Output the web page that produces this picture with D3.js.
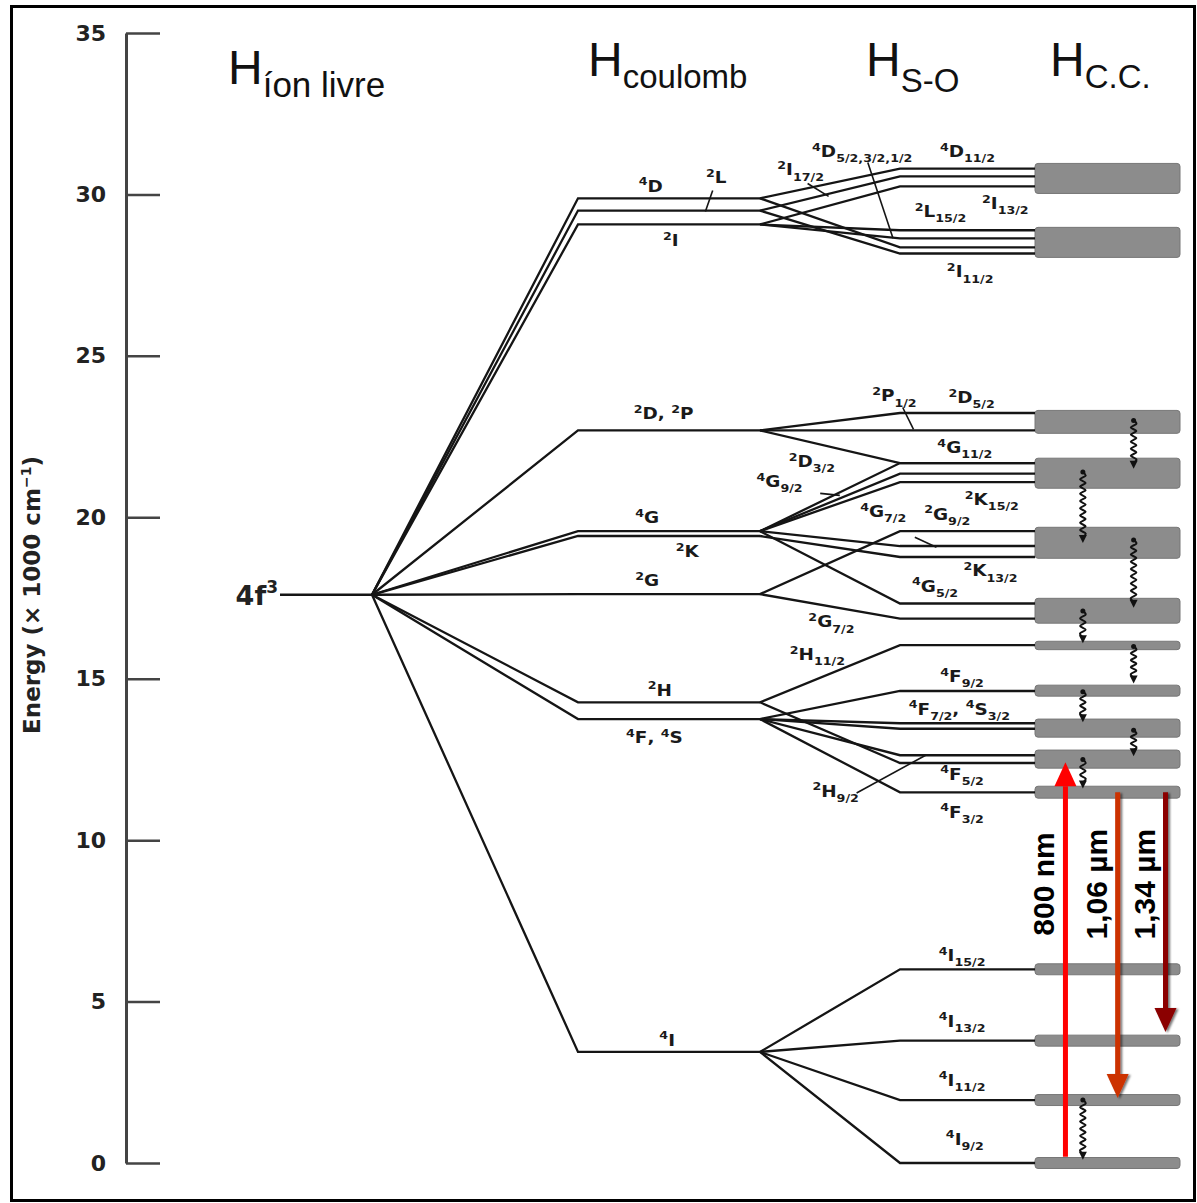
<!DOCTYPE html>
<html>
<head>
<meta charset="utf-8">
<script src="https://cdn.jsdelivr.net/npm/d3@7"></script>
<style>
body { margin: 0; background: #fff; }
svg { display: block; }
</style>
</head>
<body>
<svg id="chart" width="1197" height="1203"></svg>
<script>
// energy axis (x 1000 cm-1)
var yTicks = [0, 5, 10, 15, 20, 25, 30, 35];
var freeIonE = 17.6;

// coulomb terms and their energies
var coulombTerms = ['4D', '2L', '2I', '2D;2P', '4G', '2K', '2G', '2H', '4F;4S', '4I'];
var coulombE = [29.88, 29.5, 29.07, 22.69, 19.57, 19.42, 17.62, 14.27, 13.75, 3.44];
var coulombLabelU = [2.40, 2.76, 2.51, 2.47, 2.38, 2.60, 2.38, 2.45, 2.42, 2.49];
var coulombLabelE = [30.09, 30.34, 28.39, 23.03, 19.81, 18.76, 17.86, 14.46, 13.0, 3.62];

// spin-orbit levels reached from each coulomb term (same order as above)
var splitE = [
    [30.80, 28.36],
    [30.56, 28.17],
    [30.25, 28.89, 28.64],
    [23.23, 22.69, 21.68],
    [21.68, 21.35, 21.09, 19.11, 17.33],
    [18.77],
    [19.57, 16.86],
    [16.04, 12.39],
    [14.62, 13.62, 13.45, 12.63, 11.48],
    [6.0, 3.79, 1.95, 0.0]
];

var soTerms = ['2I|17/2', '4D|5/2,3/2,1/2', '4D|11/2', '2L|15/2', '2I|13/2', '2I|11/2', '2P|1/2', '2D|5/2',
    '4G|11/2', '2D|3/2', '4G|9/2', '2K|15/2', '4G|7/2', '2G|9/2', '2K|13/2', '4G|5/2', '2G|7/2', '2H|11/2',
    '4F|9/2', '4F|7/2;4S|3/2', '4F|5/2', '2H|9/2', '4F|3/2', '4I|15/2', '4I|13/2', '4I|11/2', '4I|9/2'];
var soLabelU = [3.29, 3.73, 4.50, 4.30, 4.78, 4.52, 3.96, 4.53, 4.48, 3.37, 3.14, 4.68, 3.88, 4.35, 4.67, 4.26,
    3.51, 3.41, 4.46, 4.44, 4.46, 3.54, 4.46, 4.46, 4.46, 4.46, 4.48];
var soLabelE = [30.59, 31.15, 31.15, 29.29, 29.54, 27.43, 23.59, 23.53, 21.98, 21.55, 20.93, 20.37, 20.0, 19.91,
    18.17, 17.68, 16.59, 15.57, 14.89, 13.87, 11.86, 11.33, 10.68, 6.25, 4.21, 2.38, 0.56];

// pointer lines from labels to levels [u1, E1, u2, E2]
var leaders = [[2.74, 30.12, 2.70, 29.47], [3.34, 30.34, 3.49, 29.94], [3.77, 30.99, 3.95, 28.64],
    [4.02, 23.4, 4.10, 22.72], [3.43, 20.74, 3.57, 20.68], [4.11, 19.38, 4.27, 19.07], [3.69, 11.46, 4.19, 12.63]];

// crystal-field manifolds
var bandLow  = [30.03, 28.05, 22.60, 20.90, 18.73, 16.72, 15.90, 14.46, 13.19, 12.23, 11.30, 5.83, 3.62, 1.78, -0.17];
var bandHigh = [30.96, 28.98, 23.31, 21.83, 19.69, 17.49, 16.16, 14.80, 13.75, 12.79, 11.67, 6.17, 3.96, 2.12, 0.17];

// non radiative relaxations
var relaxFrom = [23.0, 21.4, 19.3, 17.1, 16.0, 14.6, 13.4, 12.5, 1.95];
var relaxTo   = [21.5, 19.2, 17.2, 16.1, 14.85, 13.65, 12.6, 11.6, 0.1];
var relaxLane = ['b', 'a', 'b', 'a', 'b', 'a', 'b', 'a', 'a'];

// pump and laser transitions
var laserLabels = ['800 nm', '1,06 µm', '1,34 µm'];
var laserFrom = [0.19, 11.48, 11.48];
var laserTo = [12.41, 2.01, 4.06];
var laserU = [5.21, 5.57, 5.90];
var laserLabelE = 8.64;

var titleSubs = ['íon livre', 'coulomb', 'S-O', 'C.C.'];

// ---------- layout / styles
var laserColors = ['#ff0000', '#cc3300', '#8b0000'];
var laneU = {a: 5.33, b: 5.68};
var titleX = [228, 588, 866, 1050];
var titleY = [84, 76, 76, 76];
var titleSubDy = [13, 12, 16, 12];
var titleSubSize = [35, 33, 33, 33];
var lineColor = '#151515';

var svg = d3.select('#chart');
var y = d3.scaleLinear().domain([0, 35]).range([1163, 33]);
var x = d3.scaleLinear().domain([0, 1, 2, 3, 4, 5, 6]).range([280, 372, 578, 760, 900, 1035, 1180]);

var defs = svg.append('defs');
var shadow = defs.append('filter').attr('id', 'shadow').attr('x', -0.5).attr('y', -0.1).attr('width', 2).attr('height', 1.2);
shadow.append('feDropShadow').attr('dx', 2).attr('dy', 1).attr('stdDeviation', 1).attr('flood-color', '#000').attr('flood-opacity', 0.55);

svg.append('rect').attr('x', 11.5).attr('y', 6.5).attr('width', 1183).attr('height', 1194)
    .attr('fill', 'none').attr('stroke', '#000').attr('stroke-width', 3);

// axis
var axis = d3.axisLeft(y).tickValues(yTicks).tickSizeInner(-34).tickSizeOuter(0).tickPadding(20).tickFormat(d3.format('d'));
var gAxis = svg.append('g').attr('transform', 'translate(126,0)').call(axis);
gAxis.select('.domain').attr('stroke', '#444').attr('stroke-width', 3);
gAxis.selectAll('.tick line').attr('stroke', '#444').attr('stroke-width', 2.5);
gAxis.selectAll('.tick text').attr('font-family', 'DejaVu Sans').attr('font-weight', 'bold')
    .attr('font-size', 22).attr('fill', '#222');

var yTitle = svg.append('text').attr('transform', 'translate(40,595) rotate(-90)').attr('text-anchor', 'middle')
    .attr('font-family', 'DejaVu Sans').attr('font-weight', 'bold').attr('font-size', 23).attr('fill', '#222');
yTitle.append('tspan').text('Energy (× 1000 cm');
yTitle.append('tspan').attr('font-size', 14).attr('dy', -9).text('−1');
yTitle.append('tspan').attr('dy', 9).text(')');

// titles
titleSubs.forEach(function(s, i) {
    var t = svg.append('text').attr('x', titleX[i]).attr('y', titleY[i])
        .attr('font-family', 'Liberation Sans, Arial').attr('fill', '#111');
    t.append('tspan').attr('font-size', 48).text('H');
    t.append('tspan').attr('font-size', titleSubSize[i]).attr('dy', titleSubDy[i]).text(s);
});

// 4f3
var f = svg.append('text').attr('x', x(0) - 2).attr('y', y(freeIonE) + 10).attr('text-anchor', 'end')
    .attr('font-family', 'DejaVu Sans').attr('font-weight', 'bold').attr('fill', '#222');
f.append('tspan').attr('font-size', 27).text('4f');
f.append('tspan').attr('font-size', 17).attr('dy', -12).text('3');

// crystal field bands
svg.append('g').selectAll('rect').data(bandLow).enter().append('rect')
    .attr('x', x(5)).attr('width', x(6) - x(5))
    .attr('y', function(d, i) { return y(bandHigh[i]); })
    .attr('height', function(d, i) { return y(d) - y(bandHigh[i]); })
    .attr('rx', 3)
    .attr('fill', '#8c8c8c').attr('stroke', '#777').attr('stroke-width', 1);

// level lines
var gl = svg.append('g').attr('fill', 'none').attr('stroke', lineColor).attr('stroke-width', 2.3);
gl.append('path').attr('d', 'M' + x(0) + ',' + y(freeIonE) + 'H' + x(1));
coulombE.forEach(function(e, i) {
    gl.append('path').attr('d', 'M' + x(1) + ',' + y(freeIonE) + 'L' + x(2) + ',' + y(e) + 'H' + x(3));
    splitE[i].forEach(function(s) {
        gl.append('path').attr('d', 'M' + x(3) + ',' + y(e) + 'L' + x(4) + ',' + y(s) + 'H' + x(5));
    });
});
var gLead = svg.append('g').attr('stroke', lineColor).attr('stroke-width', 1.6);
leaders.forEach(function(l) {
    gLead.append('line').attr('x1', x(l[0])).attr('y1', y(l[1])).attr('x2', x(l[2])).attr('y2', y(l[3]));
});

// term labels
function termText(sel, str, size) {
    var small = Math.round(size * 0.66);
    var shift = 0;
    function span(txt, fs, target) {
        sel.append('tspan').attr('font-size', fs).attr('dy', target - shift).text(txt);
        shift = target;
    }
    str.split(';').forEach(function(part, k) {
        var p = part.split('|');
        if (k > 0) span(', ', size, 0);
        span(p[0][0], small, -size * 0.42);
        span(p[0].slice(1), size, 0);
        if (p[1]) span(p[1], small, size * 0.32);
    });
}
function drawLabels(terms, us, es) {
    terms.forEach(function(t, i) {
        var txt = svg.append('text')
            .attr('transform', 'translate(' + x(us[i]) + ',' + y(es[i]) + ') scale(1.15,1)')
            .attr('text-anchor', 'middle').attr('font-family', 'DejaVu Sans').attr('font-weight', 'bold')
            .attr('fill', '#1a1a1a');
        termText(txt, t, 16);
    });
}
drawLabels(coulombTerms, coulombLabelU, coulombLabelE);
drawLabels(soTerms, soLabelU, soLabelE);

// relaxation (wavy) arrows
var wave = d3.line().curve(d3.curveCardinal);
var gr = svg.append('g');
relaxFrom.forEach(function(e, i) {
    var cx = x(laneU[relaxLane[i]]);
    var y1 = y(e), y2 = y(relaxTo[i]);
    var n = Math.max(2, Math.round((y2 - 6 - y1) / 3.6));
    var pts = d3.range(n + 1).map(function(k) {
        var off = (k === 0 || k === n) ? 0 : (k % 2 ? 2.8 : -2.8);
        return [cx + off, y1 + (y2 - 6 - y1) * k / n];
    });
    gr.append('path').attr('d', wave(pts)).attr('fill', 'none').attr('stroke', '#111').attr('stroke-width', 2);
    gr.append('circle').attr('cx', cx).attr('cy', y1).attr('r', 2.5).attr('fill', '#111');
    gr.append('path').attr('d', 'M' + (cx - 4) + ',' + (y2 - 8) + 'L' + (cx + 4) + ',' + (y2 - 8) + 'L' + cx + ',' + y2 + 'Z')
        .attr('fill', '#111');
});

// laser arrows
var ga = svg.append('g');
laserLabels.forEach(function(lab, i) {
    var cx = x(laserU[i]);
    var y1 = y(laserFrom[i]), y2 = y(laserTo[i]);
    var dir = y2 < y1 ? -1 : 1;
    var head = 24, hw = 11;
    var g = ga.append('g').attr('filter', i > 0 ? 'url(#shadow)' : null);
    g.append('line').attr('x1', cx).attr('x2', cx).attr('y1', y1).attr('y2', y2 - dir * head)
        .attr('stroke', laserColors[i]).attr('stroke-width', 5);
    g.append('path').attr('d', 'M' + (cx - hw) + ',' + (y2 - dir * head) + 'L' + (cx + hw) + ',' + (y2 - dir * head) +
        'L' + cx + ',' + y2 + 'Z').attr('fill', laserColors[i]);
    svg.append('text').attr('transform', 'translate(' + (cx - 11) + ',' + y(laserLabelE) + ') rotate(-90)')
        .attr('text-anchor', 'middle').attr('font-family', 'Liberation Sans, Arial').attr('font-weight', 'bold')
        .attr('font-size', 30).attr('fill', '#000').text(lab);
});
</script>
</body>
</html>
